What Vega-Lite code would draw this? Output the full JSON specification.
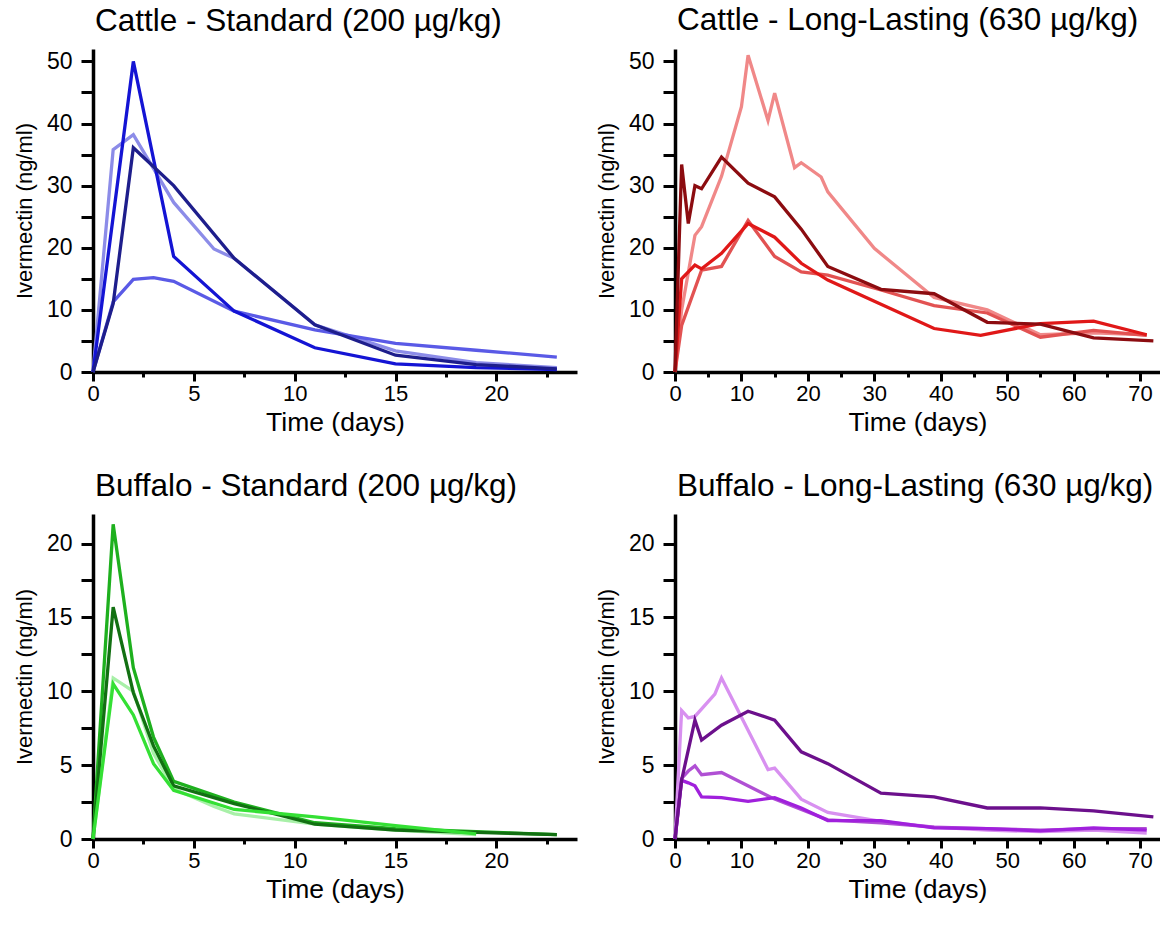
{
  "$schema": "https://vega.github.io/schema/vega-lite/v6.json",
  "background": "white",
  "padding": {"left": 13, "top": 5, "right": 0, "bottom": 0},
  "config": {
    "font": "Liberation Sans",
    "view": {"stroke": null},
    "axis": {
      "grid": false,
      "domainColor": "black",
      "domainWidth": 3.5,
      "tickColor": "black",
      "tickWidth": 3,
      "tickSize": 12,
      "labelFontSize": 23,
      "labelColor": "black",
      "labelPadding": 4,
      "labelFlush": false,
      "labelOverlap": false,
      "titleFontSize": 26.5,
      "titleFontWeight": "normal",
      "titleColor": "black"
    },
    "axisY": {"titleFontSize": 22, "titlePadding": 10, "labelPadding": 9},
    "axisX": {"titlePadding": 5, "labelPadding": 2, "labelFontSize": 22},
    "title": {"fontSize": 31.5, "fontWeight": "normal", "color": "black", "anchor": "start", "frame": "group", "offset": 12}
  },
  "datasets": {
    "d": [
      {"p":"TL","s":"A","d":0,"v":0},{"p":"TL","s":"A","d":1,"v":35.8},{"p":"TL","s":"A","d":2,"v":38.2},{"p":"TL","s":"A","d":4,"v":27.3},{"p":"TL","s":"A","d":6,"v":19.8},{"p":"TL","s":"A","d":7,"v":18.3},{"p":"TL","s":"A","d":11,"v":7.6},{"p":"TL","s":"A","d":15,"v":3.4},{"p":"TL","s":"A","d":19,"v":1.5},{"p":"TL","s":"A","d":23,"v":0.7},
      {"p":"TL","s":"D","d":0,"v":0},{"p":"TL","s":"D","d":1,"v":11.3},{"p":"TL","s":"D","d":2,"v":14.9},{"p":"TL","s":"D","d":3,"v":15.2},{"p":"TL","s":"D","d":4,"v":14.6},{"p":"TL","s":"D","d":7,"v":9.8},{"p":"TL","s":"D","d":11,"v":6.8},{"p":"TL","s":"D","d":15,"v":4.6},{"p":"TL","s":"D","d":19,"v":3.5},{"p":"TL","s":"D","d":23,"v":2.4},
      {"p":"TL","s":"C","d":0,"v":0},{"p":"TL","s":"C","d":1,"v":25},{"p":"TL","s":"C","d":2,"v":50},{"p":"TL","s":"C","d":4,"v":18.6},{"p":"TL","s":"C","d":7,"v":9.8},{"p":"TL","s":"C","d":11,"v":3.9},{"p":"TL","s":"C","d":15,"v":1.3},{"p":"TL","s":"C","d":19,"v":0.7},{"p":"TL","s":"C","d":23,"v":0.4},
      {"p":"TL","s":"B","d":0,"v":0},{"p":"TL","s":"B","d":1,"v":11},{"p":"TL","s":"B","d":2,"v":36.1},{"p":"TL","s":"B","d":4,"v":30.0},{"p":"TL","s":"B","d":7,"v":18.3},{"p":"TL","s":"B","d":11,"v":7.6},{"p":"TL","s":"B","d":15,"v":2.7},{"p":"TL","s":"B","d":19,"v":1.2},{"p":"TL","s":"B","d":23,"v":0.5},

      {"p":"TR","s":"S","d":0,"v":0},{"p":"TR","s":"S","d":1,"v":10},{"p":"TR","s":"S","d":3,"v":22},{"p":"TR","s":"S","d":4,"v":23.4},{"p":"TR","s":"S","d":7,"v":31.5},{"p":"TR","s":"S","d":10,"v":42.7},{"p":"TR","s":"S","d":11,"v":51},{"p":"TR","s":"S","d":14,"v":40.5},{"p":"TR","s":"S","d":15,"v":44.9},{"p":"TR","s":"S","d":18,"v":32.9},{"p":"TR","s":"S","d":19,"v":33.7},{"p":"TR","s":"S","d":22,"v":31.4},{"p":"TR","s":"S","d":23,"v":29},{"p":"TR","s":"S","d":30,"v":19.9},{"p":"TR","s":"S","d":39,"v":12},{"p":"TR","s":"S","d":47,"v":10},{"p":"TR","s":"S","d":55,"v":6},{"p":"TR","s":"S","d":63,"v":6.3},{"p":"TR","s":"S","d":71,"v":6.0},
      {"p":"TR","s":"E","d":0,"v":0},{"p":"TR","s":"E","d":1,"v":7.5},{"p":"TR","s":"E","d":4,"v":16.4},{"p":"TR","s":"E","d":7,"v":17.0},{"p":"TR","s":"E","d":11,"v":24.4},{"p":"TR","s":"E","d":15,"v":18.6},{"p":"TR","s":"E","d":19,"v":16.1},{"p":"TR","s":"E","d":23,"v":15.6},{"p":"TR","s":"E","d":31,"v":13.2},{"p":"TR","s":"E","d":39,"v":10.7},{"p":"TR","s":"E","d":47,"v":9.5},{"p":"TR","s":"E","d":55,"v":5.6},{"p":"TR","s":"E","d":63,"v":6.7},{"p":"TR","s":"E","d":71,"v":5.9},
      {"p":"TR","s":"R","d":0,"v":0},{"p":"TR","s":"R","d":1,"v":15},{"p":"TR","s":"R","d":3,"v":17.2},{"p":"TR","s":"R","d":4,"v":16.6},{"p":"TR","s":"R","d":7,"v":19.1},{"p":"TR","s":"R","d":11,"v":23.9},{"p":"TR","s":"R","d":15,"v":21.7},{"p":"TR","s":"R","d":19,"v":17.5},{"p":"TR","s":"R","d":23,"v":14.8},{"p":"TR","s":"R","d":31,"v":10.9},{"p":"TR","s":"R","d":39,"v":7.0},{"p":"TR","s":"R","d":46,"v":5.9},{"p":"TR","s":"R","d":55,"v":7.8},{"p":"TR","s":"R","d":63,"v":8.2},{"p":"TR","s":"R","d":71,"v":6.0},
      {"p":"TR","s":"M","d":0,"v":0},{"p":"TR","s":"M","d":1,"v":33.4},{"p":"TR","s":"M","d":2,"v":23.9},{"p":"TR","s":"M","d":3,"v":30},{"p":"TR","s":"M","d":4,"v":29.5},{"p":"TR","s":"M","d":7,"v":34.6},{"p":"TR","s":"M","d":11,"v":30.4},{"p":"TR","s":"M","d":15,"v":28.2},{"p":"TR","s":"M","d":19,"v":23},{"p":"TR","s":"M","d":23,"v":17.0},{"p":"TR","s":"M","d":31,"v":13.3},{"p":"TR","s":"M","d":39,"v":12.6},{"p":"TR","s":"M","d":47,"v":8.0},{"p":"TR","s":"M","d":55,"v":7.7},{"p":"TR","s":"M","d":63,"v":5.5},{"p":"TR","s":"M","d":72,"v":5.0},

      {"p":"BL","s":"P","d":0,"v":0},{"p":"BL","s":"P","d":1,"v":10.9},{"p":"BL","s":"P","d":2,"v":10.0},{"p":"BL","s":"P","d":3,"v":5.8},{"p":"BL","s":"P","d":4,"v":3.4},{"p":"BL","s":"P","d":6,"v":2.2},{"p":"BL","s":"P","d":7,"v":1.7},{"p":"BL","s":"P","d":11,"v":1.0},{"p":"BL","s":"P","d":15,"v":0.6},{"p":"BL","s":"P","d":19,"v":0.3},
      {"p":"BL","s":"G","d":0,"v":0},{"p":"BL","s":"G","d":1,"v":21.3},{"p":"BL","s":"G","d":2,"v":11.6},{"p":"BL","s":"G","d":3,"v":6.9},{"p":"BL","s":"G","d":4,"v":3.9},{"p":"BL","s":"G","d":7,"v":2.5},{"p":"BL","s":"G","d":11,"v":1.1},{"p":"BL","s":"G","d":15,"v":0.7},{"p":"BL","s":"G","d":19,"v":0.5},{"p":"BL","s":"G","d":23,"v":0.3},
      {"p":"BL","s":"K","d":0,"v":0},{"p":"BL","s":"K","d":1,"v":15.7},{"p":"BL","s":"K","d":2,"v":9.9},{"p":"BL","s":"K","d":3,"v":6.3},{"p":"BL","s":"K","d":4,"v":3.6},{"p":"BL","s":"K","d":7,"v":2.4},{"p":"BL","s":"K","d":11,"v":1.0},{"p":"BL","s":"K","d":15,"v":0.6},{"p":"BL","s":"K","d":19,"v":0.45},{"p":"BL","s":"K","d":23,"v":0.3},
      {"p":"BL","s":"N","d":0,"v":0},{"p":"BL","s":"N","d":1,"v":10.5},{"p":"BL","s":"N","d":2,"v":8.4},{"p":"BL","s":"N","d":3,"v":5.1},{"p":"BL","s":"N","d":4,"v":3.3},{"p":"BL","s":"N","d":7,"v":2.0},{"p":"BL","s":"N","d":11,"v":1.5},{"p":"BL","s":"N","d":15,"v":0.9},{"p":"BL","s":"N","d":19,"v":0.35},

      {"p":"BR","s":"L","d":0,"v":0},{"p":"BR","s":"L","d":1,"v":8.7},{"p":"BR","s":"L","d":2,"v":8.2},{"p":"BR","s":"L","d":3,"v":8.3},{"p":"BR","s":"L","d":6,"v":9.8},{"p":"BR","s":"L","d":7,"v":10.9},{"p":"BR","s":"L","d":14,"v":4.7},{"p":"BR","s":"L","d":15,"v":4.8},{"p":"BR","s":"L","d":19,"v":2.7},{"p":"BR","s":"L","d":23,"v":1.8},{"p":"BR","s":"L","d":31,"v":1.2},{"p":"BR","s":"L","d":39,"v":0.8},{"p":"BR","s":"L","d":47,"v":0.6},{"p":"BR","s":"L","d":55,"v":0.5},{"p":"BR","s":"L","d":63,"v":0.6},{"p":"BR","s":"L","d":71,"v":0.4},
      {"p":"BR","s":"M","d":0,"v":0},{"p":"BR","s":"M","d":1,"v":4.1},{"p":"BR","s":"M","d":2,"v":4.6},{"p":"BR","s":"M","d":3,"v":4.95},{"p":"BR","s":"M","d":4,"v":4.35},{"p":"BR","s":"M","d":7,"v":4.5},{"p":"BR","s":"M","d":15,"v":2.7},{"p":"BR","s":"M","d":23,"v":1.3},{"p":"BR","s":"M","d":31,"v":1.1},{"p":"BR","s":"M","d":39,"v":0.8},{"p":"BR","s":"M","d":47,"v":0.7},{"p":"BR","s":"M","d":55,"v":0.6},{"p":"BR","s":"M","d":63,"v":0.7},{"p":"BR","s":"M","d":71,"v":0.7},
      {"p":"BR","s":"V","d":0,"v":0},{"p":"BR","s":"V","d":1,"v":3.97},{"p":"BR","s":"V","d":2,"v":3.8},{"p":"BR","s":"V","d":3,"v":3.6},{"p":"BR","s":"V","d":4,"v":2.85},{"p":"BR","s":"V","d":7,"v":2.8},{"p":"BR","s":"V","d":11,"v":2.55},{"p":"BR","s":"V","d":15,"v":2.8},{"p":"BR","s":"V","d":19,"v":2.1},{"p":"BR","s":"V","d":23,"v":1.25},{"p":"BR","s":"V","d":31,"v":1.25},{"p":"BR","s":"V","d":39,"v":0.75},{"p":"BR","s":"V","d":47,"v":0.7},{"p":"BR","s":"V","d":55,"v":0.55},{"p":"BR","s":"V","d":63,"v":0.75},{"p":"BR","s":"V","d":71,"v":0.6},
      {"p":"BR","s":"D","d":0,"v":0},{"p":"BR","s":"D","d":1,"v":4.0},{"p":"BR","s":"D","d":3,"v":8.05},{"p":"BR","s":"D","d":4,"v":6.7},{"p":"BR","s":"D","d":7,"v":7.7},{"p":"BR","s":"D","d":11,"v":8.65},{"p":"BR","s":"D","d":15,"v":8.05},{"p":"BR","s":"D","d":19,"v":5.9},{"p":"BR","s":"D","d":23,"v":5.1},{"p":"BR","s":"D","d":31,"v":3.1},{"p":"BR","s":"D","d":39,"v":2.85},{"p":"BR","s":"D","d":47,"v":2.1},{"p":"BR","s":"D","d":55,"v":2.1},{"p":"BR","s":"D","d":63,"v":1.9},{"p":"BR","s":"D","d":72,"v":1.5}
    ]
  },
  "resolve": {"scale": {"color": "independent"}},
  "spacing": 34,
  "vconcat": [
    {
      "spacing": 18,
      "resolve": {"scale": {"color": "independent"}},
      "hconcat": [
        {
          "data": {"name": "d"},
          "transform": [{"filter": "datum.p == 'TL'"}],
          "title": {"text": "Cattle - Standard (200 µg/kg)", "dx": 2},
          "width": 484, "height": 323,
          "mark": {"type": "line", "strokeWidth": 3.3},
          "encoding": {
            "x": {"field": "d", "type": "quantitative", "scale": {"domain": [0, 24], "nice": false},
              "axis": {"title": "Time (days)", "values": [0,2.5,5,7.5,10,12.5,15,17.5,20,22.5], "labelExpr": "datum.value % 5 == 0 ? datum.label : ''", "tickSize": {"condition": {"test": "datum.value % 5 == 0", "value": 9}, "value": 5}}},
            "y": {"field": "v", "type": "quantitative", "scale": {"domain": [0, 52], "nice": false},
              "axis": {"title": "Ivermectin (ng/ml)", "values": [0,5,10,15,20,25,30,35,40,45,50], "labelExpr": "datum.value % 10 == 0 ? datum.label : ''"}},
            "color": {"field": "s", "type": "nominal", "legend": null,
              "scale": {"domain": ["A","D","C","B"], "range": ["#8c8ce8","#5a5ae6","#1414d4","#1e1e8c"]}}
          }
        },
        {
          "data": {"name": "d"},
          "transform": [{"filter": "datum.p == 'TR'"}],
          "title": {"text": "Cattle - Long-Lasting (630 µg/kg)", "dx": 2},
          "width": 485, "height": 323,
          "mark": {"type": "line", "strokeWidth": 3.3},
          "encoding": {
            "x": {"field": "d", "type": "quantitative", "scale": {"domain": [0, 73], "nice": false},
              "axis": {"title": "Time (days)", "values": [0,5,10,15,20,25,30,35,40,45,50,55,60,65,70], "labelExpr": "datum.value % 10 == 0 ? datum.label : ''", "tickSize": {"condition": {"test": "datum.value % 10 == 0", "value": 9}, "value": 5}}},
            "y": {"field": "v", "type": "quantitative", "scale": {"domain": [0, 52], "nice": false},
              "axis": {"title": "Ivermectin (ng/ml)", "values": [0,5,10,15,20,25,30,35,40,45,50], "labelExpr": "datum.value % 10 == 0 ? datum.label : ''"}},
            "color": {"field": "s", "type": "nominal", "legend": null,
              "scale": {"domain": ["S","E","R","M"], "range": ["#f08888","#e25252","#e01818","#8c0c10"]}}
          }
        }
      ]
    },
    {
      "spacing": 18,
      "resolve": {"scale": {"color": "independent"}},
      "hconcat": [
        {
          "data": {"name": "d"},
          "transform": [{"filter": "datum.p == 'BL'"}],
          "title": {"text": "Buffalo - Standard (200 µg/kg)", "dx": 2},
          "width": 484, "height": 325,
          "mark": {"type": "line", "strokeWidth": 3.3},
          "encoding": {
            "x": {"field": "d", "type": "quantitative", "scale": {"domain": [0, 24], "nice": false},
              "axis": {"title": "Time (days)", "values": [0,2.5,5,7.5,10,12.5,15,17.5,20,22.5], "labelExpr": "datum.value % 5 == 0 ? datum.label : ''", "tickSize": {"condition": {"test": "datum.value % 5 == 0", "value": 9}, "value": 5}}},
            "y": {"field": "v", "type": "quantitative", "scale": {"domain": [0, 22], "nice": false},
              "axis": {"title": "Ivermectin (ng/ml)", "values": [0,2.5,5,7.5,10,12.5,15,17.5,20], "labelExpr": "datum.value % 5 == 0 ? datum.label : ''"}},
            "color": {"field": "s", "type": "nominal", "legend": null,
              "scale": {"domain": ["P","N","K","G"], "range": ["#a8f0a8","#34e034","#127012","#1eb01e"]}}
          }
        },
        {
          "data": {"name": "d"},
          "transform": [{"filter": "datum.p == 'BR'"}],
          "title": {"text": "Buffalo - Long-Lasting (630 µg/kg)", "dx": 2},
          "width": 485, "height": 325,
          "mark": {"type": "line", "strokeWidth": 3.3},
          "encoding": {
            "x": {"field": "d", "type": "quantitative", "scale": {"domain": [0, 73], "nice": false},
              "axis": {"title": "Time (days)", "values": [0,5,10,15,20,25,30,35,40,45,50,55,60,65,70], "labelExpr": "datum.value % 10 == 0 ? datum.label : ''", "tickSize": {"condition": {"test": "datum.value % 10 == 0", "value": 9}, "value": 5}}},
            "y": {"field": "v", "type": "quantitative", "scale": {"domain": [0, 22], "nice": false},
              "axis": {"title": "Ivermectin (ng/ml)", "values": [0,2.5,5,7.5,10,12.5,15,17.5,20], "labelExpr": "datum.value % 5 == 0 ? datum.label : ''"}},
            "color": {"field": "s", "type": "nominal", "legend": null,
              "scale": {"domain": ["L","M","V","D"], "range": ["#d890f0","#b050d4","#a020dc","#6c108c"]}}
          }
        }
      ]
    }
  ]
}
